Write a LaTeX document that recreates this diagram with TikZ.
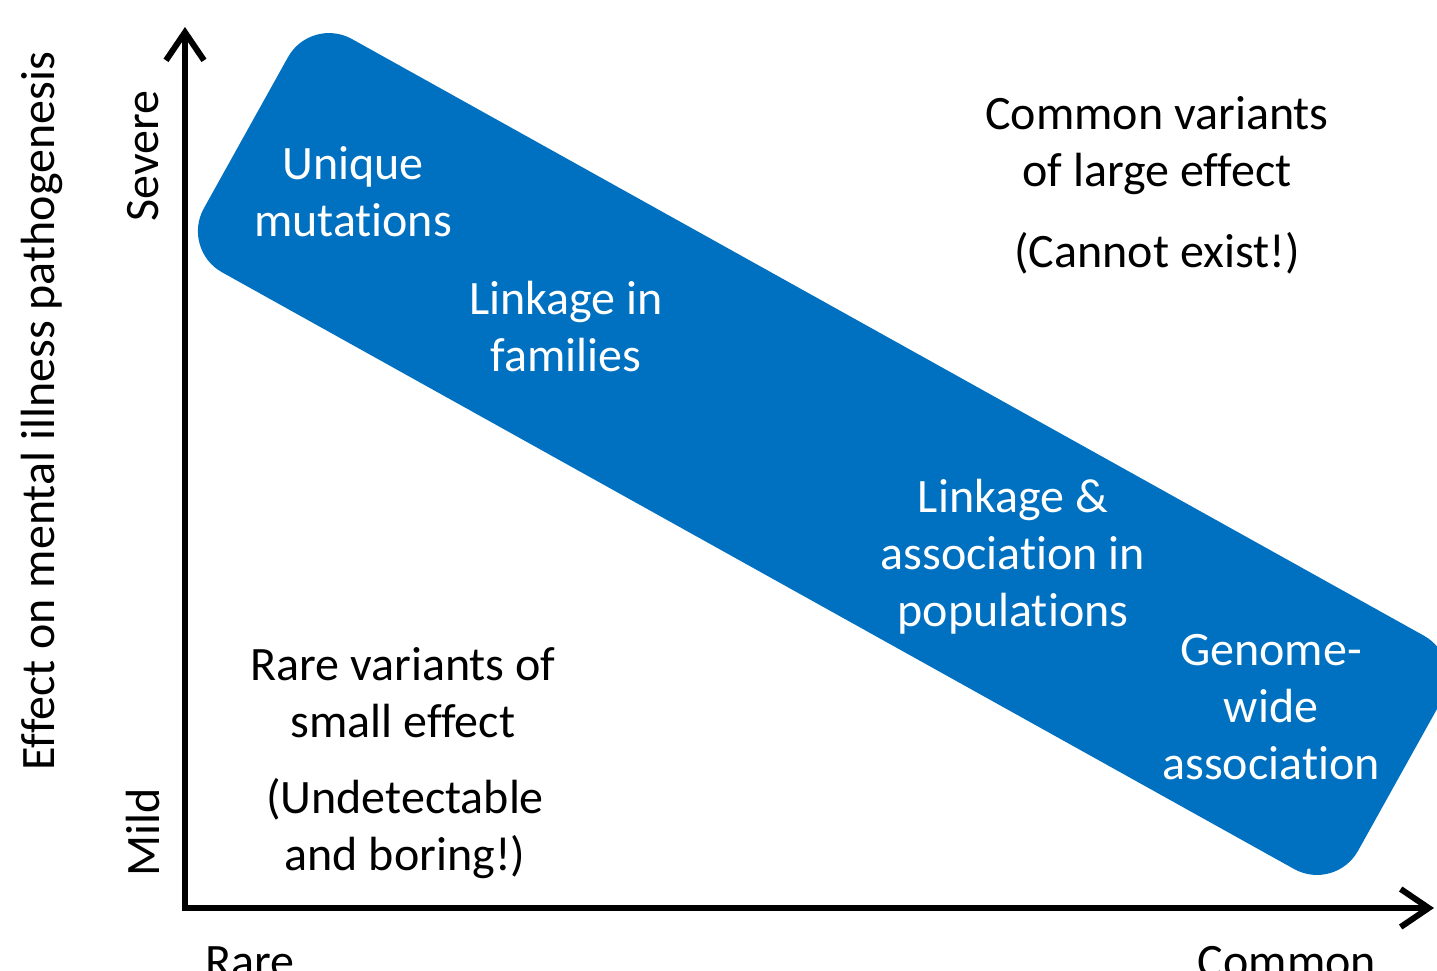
\documentclass[tikz,border=0pt]{standalone}
\usepackage{fontspec}
\setmainfont{Carlito}[Ligatures=NoCommon]
\usetikzlibrary{arrows.meta}
\definecolor{bandblue}{RGB}{0,112,192}
\begin{document}
\begin{tikzpicture}[x=1pt,y=-1pt,
  lbl/.style={font=\fontsize{48}{57}\selectfont, align=center, inner sep=0pt, text=black},
  wlbl/.style={lbl, text=white},
  axis/.style={line width=6pt, line cap=round, line join=miter,
    {Straight Barb[length=28pt,width=38pt]}-{Straight Barb[length=28pt,width=38pt]}},
  band/.style={fill=bandblue, draw=none, rounded corners=47pt, inner sep=0pt,
    minimum width=1321pt, minimum height=267pt, rotate=-29.1}]
\useasboundingbox (0,0) rectangle (1437,970);
\clip (0,0) rectangle (1437,970);
\node[band] (bandnode) at (823,454) {};
\coordinate (ytop) at (185,27);
\coordinate (O) at (185,908);
\coordinate (xend) at (1434,908);
\draw[axis] (ytop) -- (O) -- (xend);
\node[wlbl] (unique) at (353,192) {Unique\\mutations};
\node[wlbl] (linkfam) at (566,327) {Linkage in\\families};
\node[wlbl] (linkpop) at (1013,557) {Linkage \&\\association in\\populations};
\node[wlbl] (gwas) at (1271,707) {Genome-\\wide\\association};
\node[lbl] (common) at (1157,146) {Common variants\\of large effect};
\node[lbl] (cannot) at (1157,253) {(Cannot exist!)};
\node[lbl] (rarev) at (403,693) {Rare variants of\\small effect};
\node[lbl] (undet) at (405,829) {(Undetectable\\and boring!)};
\node[lbl, rotate=90] (severe) at (143,156) {Severe};
\node[lbl, rotate=90] (mild) at (143,832) {Mild};
\node[lbl, rotate=90] (effect) at (42,411) {Effect on mental illness pathogenesis};
\node[lbl, anchor=base] (rare) at (250,977) {Rare};
\node[lbl, anchor=base] (commonx) at (1287,977) {Common};
\end{tikzpicture}
\end{document}
